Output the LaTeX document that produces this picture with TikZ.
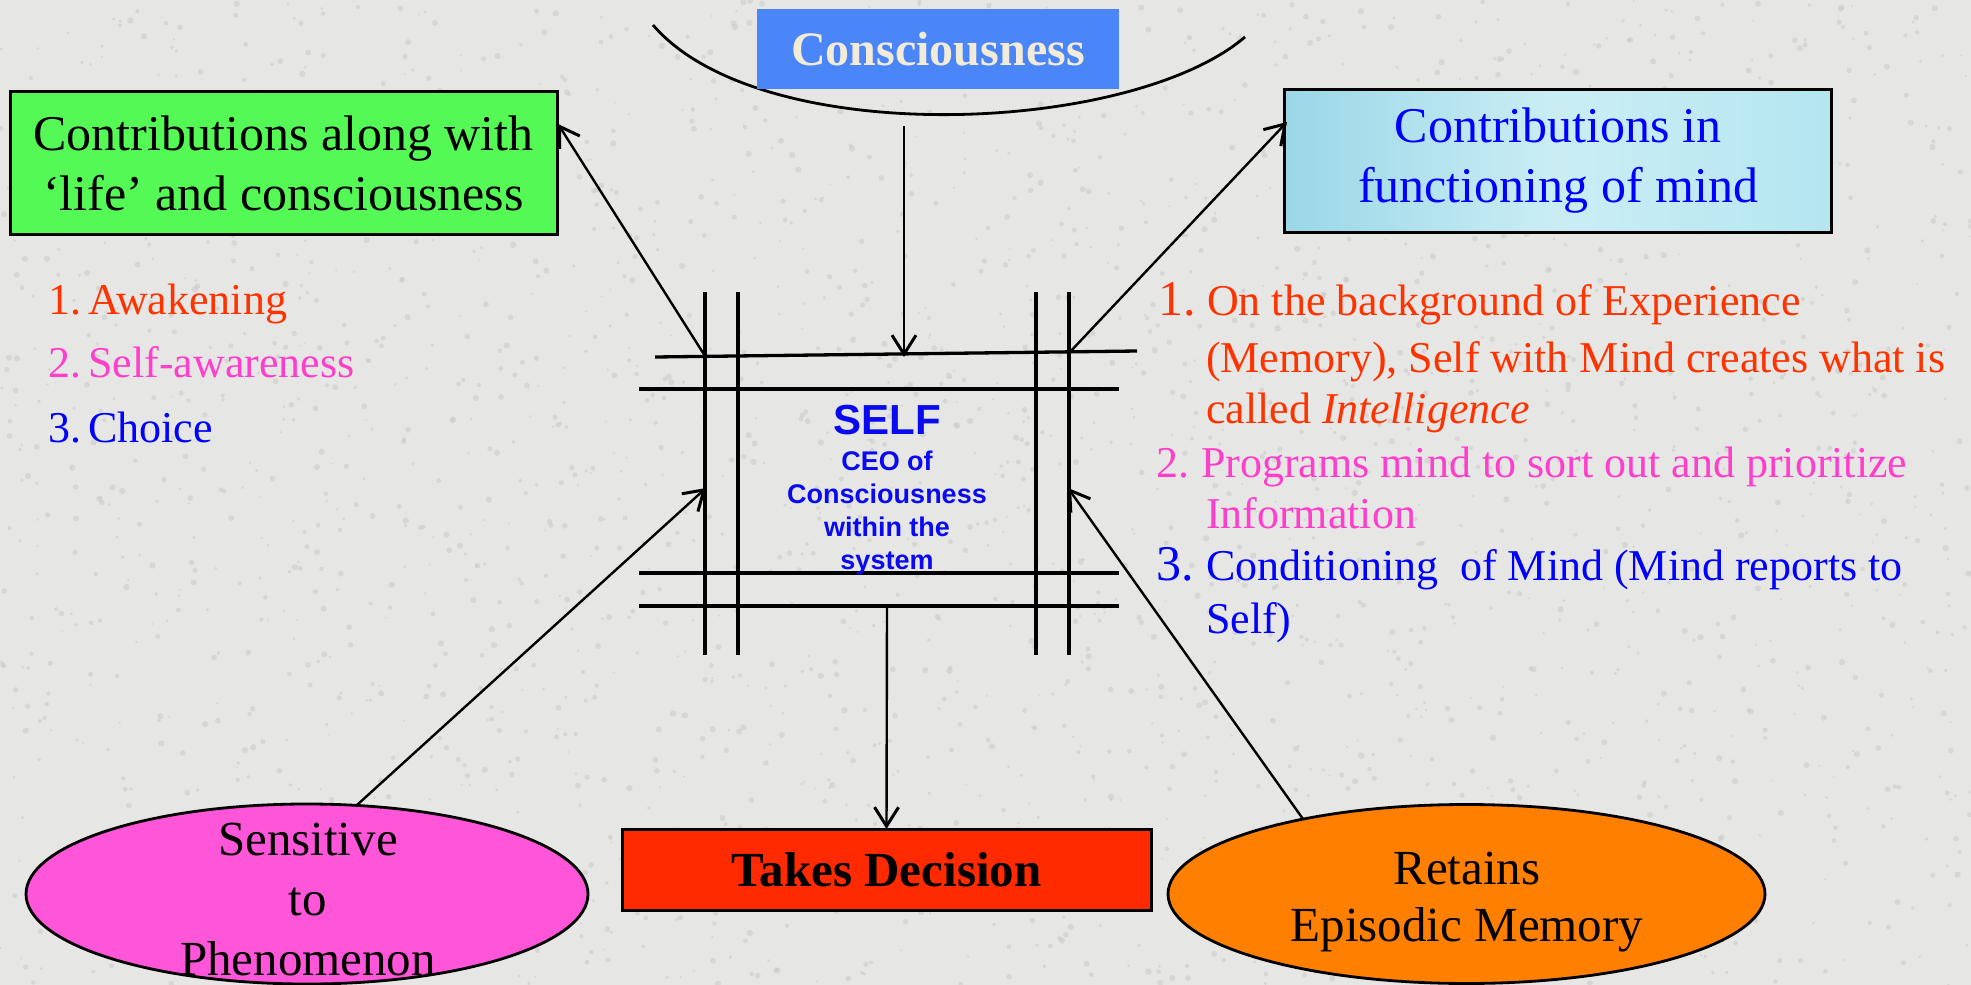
\documentclass[tikz,border=0pt]{standalone}
\usepackage{fontspec}
\setmainfont{Liberation Serif}
\newfontfamily\sansf{Liberation Sans}
\usetikzlibrary{arrows.meta,shapes.geometric}
\definecolor{bg}{HTML}{E6E6E4}
\definecolor{speck}{HTML}{C9C9C7}
\definecolor{cblue}{HTML}{4A86F8}
\definecolor{beige}{HTML}{F2EBD8}
\definecolor{lgreen}{HTML}{55F955}
\definecolor{cyanbox}{HTML}{B4E6F0}
\definecolor{cyanboxd}{HTML}{9AD7E7}
\definecolor{redbox}{HTML}{FF2A00}
\definecolor{pinkov}{HTML}{FF55D8}
\definecolor{orangeov}{HTML}{FF7F00}
\definecolor{tred}{HTML}{FF3300}
\definecolor{tmag}{HTML}{FF3FCC}
\definecolor{tblue}{HTML}{0000FF}
\definecolor{selfblue}{HTML}{0A0AF0}
\begin{document}
\begin{tikzpicture}[x=1pt,y=-1pt,
  every node/.style={inner sep=0pt, outer sep=0pt},
  box/.style={draw=black, line width=3pt, rectangle},
  oval/.style={draw=black, line width=2.8pt, ellipse},
  gridline/.style={line width=3.3pt, black},
  conn/.style={line width=2.4pt, -{Straight Barb[length=19pt,width=24pt,line width=3pt]}},
  listtxt/.style={anchor=base west, font=\fontsize{44}{52}\selectfont},
  bignum/.style={anchor=base west, font=\fontsize{50}{56}\selectfont},
  ovaltxt/.style={align=center, font=\fontsize{49}{60}\selectfont},
  selftxt/.style={text=selfblue, align=center}]
\fill[bg] (0,0) rectangle (1971,985);
\useasboundingbox (0,0) rectangle (1971,985);
% granite speckle
\pgfmathsetseed{7}
\foreach \i in {1,...,2600}{
  \pgfmathsetmacro{\px}{rnd*1971}
  \pgfmathsetmacro{\py}{rnd*985}
  \pgfmathsetmacro{\pr}{1+rnd*2.2}
  \fill[speck, opacity=0.55] (\px,\py) circle (\pr pt);
}

% arc under Consciousness
\draw[line width=2.8pt] (653,25) .. controls (760,150) and (1130,135) .. (1245,37);

% Consciousness box
\node[fill=cblue, minimum width=362pt, minimum height=80pt, text=beige,
  font=\bfseries\fontsize{48}{56}\selectfont] (cons) at (938,49) {Consciousness};

% green box
\node[box, fill=lgreen, minimum width=547pt, minimum height=143pt, align=center,
  font=\fontsize{50}{60}\selectfont] (contl) at (283.5,163) {Contributions along with\\‘life’ and consciousness};

% cyan box
\node[box, left color=cyanboxd, right color=cyanbox, middle color=cyanbox!70!white,
  minimum width=547pt, minimum height=143pt, align=center, text=tblue,
  font=\fontsize{50}{60}\selectfont] (contr) at (1558,160.5) {Contributions in\\functioning of mind};

% grid
\coordinate (h1l) at (655,357); \coordinate (h1r) at (1137,351);
\coordinate (h2l) at (639,389); \coordinate (h2r) at (1119,389);
\coordinate (h3l) at (639,573); \coordinate (h3r) at (1119,573);
\coordinate (h4l) at (639,606); \coordinate (h4r) at (1119,606);
\coordinate (v1t) at (705,292); \coordinate (v1b) at (705,655);
\coordinate (v2t) at (738,292); \coordinate (v2b) at (738,655);
\coordinate (v3t) at (1036,292); \coordinate (v3b) at (1036,655);
\coordinate (v4t) at (1069,292); \coordinate (v4b) at (1069,655);
\draw[gridline] (h1l) -- (h1r);
\draw[gridline] (h2l) -- (h2r);
\draw[gridline] (h3l) -- (h3r);
\draw[gridline] (h4l) -- (h4r);
\draw[gridline] (v1t) -- (v1b);
\draw[gridline] (v2t) -- (v2b);
\draw[gridline] (v3t) -- (v3b);
\draw[gridline] (v4t) -- (v4b);

% SELF text
\node[selftxt, font=\sansf\bfseries\fontsize{42}{44}\selectfont] (self) at (887,420) {SELF};
\node[selftxt, font=\sansf\bfseries\fontsize{27}{33}\selectfont] (ceo) at (887,513) {CEO of\\Consciousness\\within the\\system};

% left list
\node[listtxt, text=tred] (l1) at (48,314) {1.\,Awakening};
\node[listtxt, text=tmag] (l2) at (48,377) {2.\,Self-awareness};
\node[listtxt, text=tblue] (l3) at (48,442) {3.\,Choice};

% right list
\node[bignum, text=tred] (r1n) at (1158,315) {1.};
\node[listtxt, text=tred] (r1a) at (1207,315) {On the background of Experience};
\node[listtxt, text=tred] (r1b) at (1206,372) {(Memory), Self with Mind creates what is};
\node[listtxt, text=tred] (r1c) at (1206,423) {called \textit{Intelligence}};
\node[listtxt, text=tmag] (r2n) at (1156,477) {2.};
\node[listtxt, text=tmag] (r2a) at (1201,477) {Programs mind to sort out and prioritize};
\node[listtxt, text=tmag] (r2b) at (1206,528) {Information};
\node[bignum, text=tblue] (r3n) at (1156,580) {3.};
\node[listtxt, text=tblue] (r3a) at (1206,580) {Conditioning\ \ of Mind (Mind reports to};
\node[listtxt, text=tblue] (r3b) at (1206,633) {Self)};

% bottom shapes
\node[box, fill=redbox, minimum width=529pt, minimum height=81pt,
  font=\bfseries\fontsize{49}{60}\selectfont] (dec) at (886.5,869.5) {Takes Decision};
\node[oval, fill=pinkov, minimum width=562pt, minimum height=180pt] (sens) at (307,894) {};
\node[ovaltxt] (senst) at (308,900) {Sensitive\\to\\Phenomenon};
\node[oval, fill=orangeov, minimum width=597pt, minimum height=179pt] (ret) at (1466.5,894) {};
\node[ovaltxt, font=\fontsize{49}{57}\selectfont] (rett) at (1467,902) {Retains\\Episodic Memory};

% connector endpoints
\coordinate (consfoot) at (904,126);
\coordinate (toptip) at (904,357);
\coordinate (gl) at (705,356);
\coordinate (gtip) at (558,124);
\coordinate (gr) at (1069,353);
\coordinate (ctip) at (1287,122);
\coordinate (ltip) at (706,488);
\coordinate (rtip) at (1068,488);
\coordinate (sensTop) at (357,805);
\coordinate (retTop) at (1303,819);
\coordinate (bot) at (887,606);

\draw[conn] (consfoot) -- (toptip);
\draw[conn] (gl) -- (gtip);
\draw[conn] (gr) -- (ctip);
\draw[conn] (sensTop) -- (ltip);
\draw[conn] (retTop) -- (rtip);
\draw[conn] (bot) -- (dec.north);
\end{tikzpicture}
\end{document}
